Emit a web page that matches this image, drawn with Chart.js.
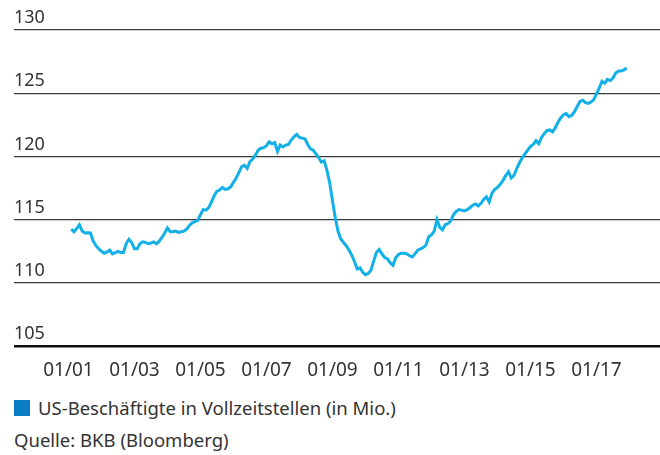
<!DOCTYPE html>
<html>
<head>
<meta charset="utf-8">
<script src="https://cdn.jsdelivr.net/npm/chart.js@4"></script>
<style>
  body { margin: 0; background: #fff; font-family: "Noto Sans", sans-serif; color: #333; }
  #wrap { position: absolute; left: 0; top: 0; width: 660px; height: 391px; }
  .legend { position: absolute; left: 14px; top: 394px; font-size: 18.5px; line-height: 28px; display: flex; align-items: center; }
  .legend span.box { display: inline-block; width: 16px; height: 16px; background: #0a7dc5; margin-right: 8px; }
  .source { position: absolute; left: 14px; top: 426px; font-size: 18.5px; line-height: 28px; }
</style>
</head>
<body>
<div id="wrap"><canvas id="chart"></canvas></div>
<div class="legend"><span class="box"></span>US-Beschäftigte in Vollzeitstellen (in Mio.)</div>
<div class="source">Quelle: BKB (Bloomberg)</div>
<script>
// monthly, index 0 = Jan 2001 (no value), last = Dec 2017
const employed = [
  null,
  114.25, 114.05, 114.3, 114.6, 114.1, 113.95, 113.97, 113.95, 113.3, 112.95, 112.7,
  112.5, 112.35, 112.45, 112.6, 112.3, 112.4, 112.5, 112.4, 112.4, 113.1, 113.45, 113.2,
  112.7, 112.7, 113.1, 113.25, 113.2, 113.1, 113.15, 113.25, 113.1, 113.3, 113.6, 113.95,
  114.35, 114.05, 114.05, 114.1, 114.0, 114.05, 114.1, 114.25, 114.55, 114.75, 114.85, 114.95,
  115.4, 115.8, 115.75, 115.95, 116.4, 116.9, 117.25, 117.35, 117.55, 117.4, 117.45, 117.6,
  117.95, 118.3, 118.75, 119.2, 119.3, 119.05, 119.6, 119.8, 120.1, 120.5, 120.65, 120.7,
  120.85, 121.15, 121.0, 121.1, 120.4, 120.9, 120.75, 120.9, 120.95, 121.3, 121.55, 121.75,
  121.5, 121.45, 121.4, 120.95, 120.6, 120.5, 120.2, 119.9, 119.55, 119.65, 118.9, 117.9,
  116.5, 115.2, 114.1, 113.5, 113.2, 112.95, 112.6, 112.2, 111.7, 111.1, 111.2, 110.85,
  110.65, 110.75, 111.0, 111.75, 112.4, 112.65, 112.3, 112.0, 111.9, 111.6, 111.4, 112.0,
  112.25, 112.35, 112.35, 112.3, 112.15, 112.05, 112.3, 112.6, 112.7, 112.8, 113.0, 113.65,
  113.8, 114.1, 115.0, 114.4, 114.2, 114.6, 114.7, 114.9, 115.4, 115.65, 115.8, 115.75,
  115.7, 115.8, 115.95, 116.15, 116.25, 116.1, 116.3, 116.6, 116.8, 116.4, 117.1, 117.4,
  117.55, 117.8, 118.1, 118.5, 118.8, 118.3, 118.5, 119.05, 119.5, 119.9, 120.2, 120.5,
  120.8, 120.95, 121.25, 121.0, 121.5, 121.8, 122.05, 122.1, 121.95, 122.25, 122.7, 123.05,
  123.3, 123.4, 123.15, 123.25, 123.55, 123.95, 124.35, 124.45, 124.25, 124.2, 124.3, 124.5,
  124.95, 125.4, 125.95, 125.8, 126.1, 126.0, 126.2, 126.6, 126.75, 126.75, 126.85, 127.0
];

const tickMonths = [0, 24, 48, 72, 96, 120, 144, 168, 192];
const tickLabels = ['01/01', '01/03', '01/05', '01/07', '01/09', '01/11', '01/13', '01/15', '01/17'];
const yTicks = [105, 110, 115, 120, 125, 130];

Chart.defaults.font.family = '"Noto Sans", sans-serif';
Chart.defaults.color = '#333';

const points = employed.map((v, i) => ({ x: i, y: v }));

new Chart(document.getElementById('chart'), {
  type: 'line',
  data: {
    datasets: [{
      label: 'US-Beschäftigte in Vollzeitstellen (in Mio.)',
      data: points,
      borderColor: '#12b0e6',
      borderWidth: 3,
      pointRadius: 0,
      tension: 0,
      spanGaps: false
    }]
  },
  options: {
    responsive: true,
    maintainAspectRatio: false,
    animation: false,
    layout: { padding: { left: 14, right: 0, top: 30, bottom: 4 } },
    plugins: { legend: { display: false }, tooltip: { enabled: false } },
    scales: {
      x: {
        type: 'linear',
        min: -19.8,
        max: 215.1,
        grid: { display: false },
        border: { display: false },
        afterBuildTicks: (axis) => { axis.ticks = tickMonths.map(v => ({ value: v })); },
        ticks: {
          padding: 5,
          font: { size: 19 },
          color: '#333',
          callback: (v) => tickLabels[tickMonths.indexOf(v)]
        }
      },
      y: {
        min: 105,
        max: 130,
        border: { display: false },
        afterBuildTicks: (axis) => { axis.ticks = yTicks.map(v => ({ value: v })); },
        grid: {
          drawTicks: false,
          color: (c) => c.tick && c.tick.value === 105 ? '#111' : '#3a3a3a',
          lineWidth: (c) => c.tick && c.tick.value === 105 ? 2.5 : 1.2
        },
        ticks: {
          mirror: true,
          padding: 0,
          labelOffset: -12,
          font: { size: 18 },
          color: '#333'
        }
      }
    }
  }
});
</script>
</body>
</html>
